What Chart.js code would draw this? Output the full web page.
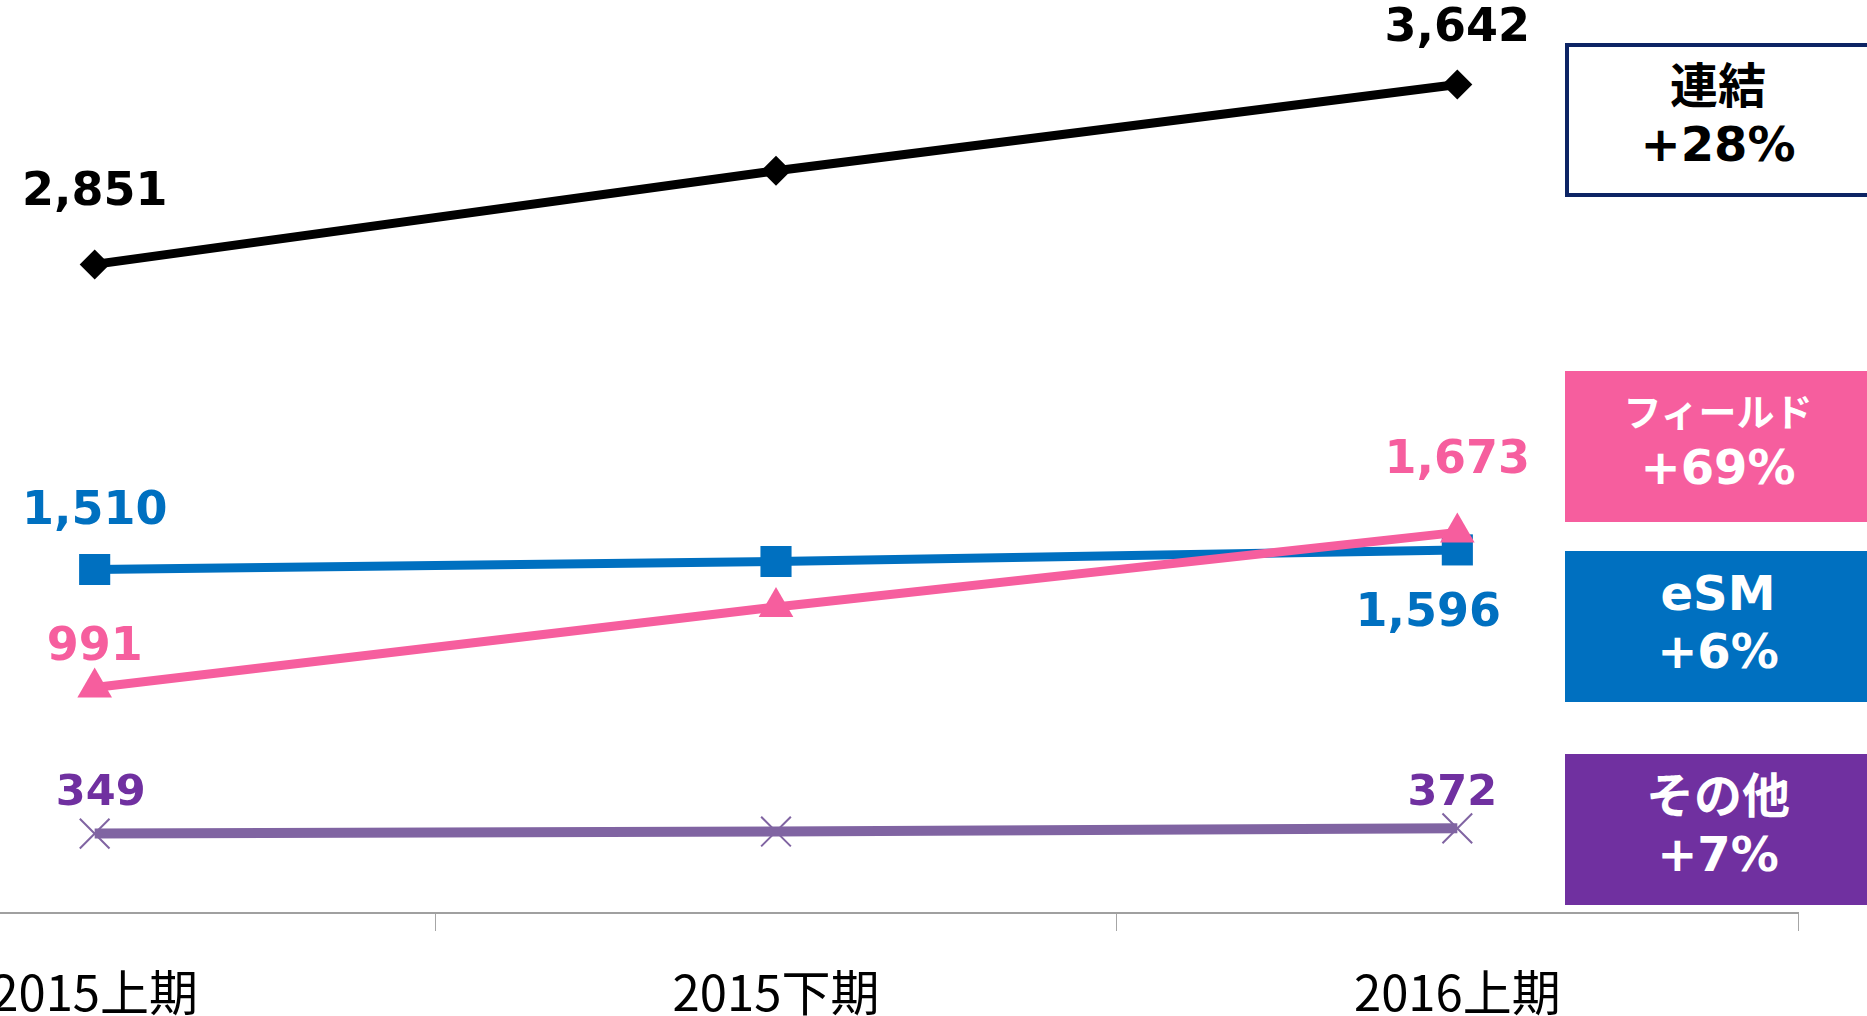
<!DOCTYPE html>
<html lang="ja">
<head>
<meta charset="utf-8">
<title>売上推移</title>
<script src="https://cdn.jsdelivr.net/npm/chart.js@4.4.1/dist/chart.umd.min.js"></script>
<style>
  html, body { margin: 0; padding: 0; background: #fff; overflow: hidden; }
  body { width: 1867px; height: 1016px; position: relative; }
  #wrap { position: absolute; left: -246px; top: 0; width: 2056px; height: 1016px; }
  .box {
    position: absolute; left: 1565px; width: 306px; height: 151px;
    display: flex; flex-direction: column; align-items: center; justify-content: center;
    font-family: 'DejaVu Sans', 'Noto Sans CJK JP', sans-serif; font-weight: bold;
    color: #fff; box-sizing: border-box; line-height: 58px; text-align: center;
    padding-bottom: 10px;
  }
  .box .t { font-size: 48px; }
  .box .g { font-size: 48px; }
  .box .small { font-size: 38px; line-height: 50px; }
</style>
</head>
<body>
<div id="wrap"><canvas id="grafico"></canvas></div>
<div id="boxes"></div>

<script>
// categorias e valores
const periodos = ['2015上期', '2015下期', '2016上期'];
const renketsu = [2851, 3263, 3642];
const field = [991, 1345, 1673];
const esm = [1510, 1545, 1596];
const sonota = [349, 358, 372];

// caixas da direita
const boxNomes = ['連結', 'フィールド', 'eSM', 'その他'];
const boxCrescimento = ['+28%', '+69%', '+6%', '+7%'];

const PRETO = '#000000';
const ROSA = '#F65E9E';
const AZUL = '#0070C0';
const ROXO = '#7030A0';
const ROXO_LINHA = '#8064A2';

// posição dos rótulos (índice do ponto -> deslocamento)
const rotulos = {
    renketsu: { cor: PRETO, fonte: 46, pos: { 0: [0, -71], 2: [0, -55] } },
    field:    { cor: ROSA,  fonte: 46, pos: { 0: [0, -40], 2: [0, -71] } },
    esm:      { cor: AZUL,  fonte: 46, pos: { 0: [0, -57], 2: [-29, 64] } },
    sonota:   { cor: ROXO,  fonte: 43, pos: { 0: [6, -40], 2: [-5, -35] } }
};

const pluginRotulos = {
    id: 'rotulos',
    afterDatasetsDraw(chart) {
        const ctx = chart.ctx;
        ctx.save();
        ctx.textAlign = 'center';
        ctx.textBaseline = 'middle';
        chart.data.datasets.forEach((ds, i) => {
            const cfg = rotulos[ds.chave];
            const meta = chart.getDatasetMeta(i);
            ctx.fillStyle = cfg.cor;
            ctx.font = 'bold ' + cfg.fonte + 'px "DejaVu Sans", sans-serif';
            Object.keys(cfg.pos).forEach(k => {
                const p = meta.data[k];
                const [dx, dy] = cfg.pos[k];
                ctx.fillText(ds.data[k].toLocaleString('en-US'), p.x + dx, p.y + dy);
            });
        });
        ctx.restore();
    }
};

const ctx = document.getElementById('grafico').getContext('2d');
const grafico = new Chart(ctx, {
    type: 'line',
    data: {
        labels: periodos,
        datasets: [
            {
                chave: 'renketsu', label: '連結', data: renketsu,
                borderColor: PRETO, backgroundColor: PRETO, borderWidth: 9,
                pointStyle: 'rectRot', pointRadius: 15, pointBorderWidth: 0,
                pointBackgroundColor: PRETO
            },
            {
                chave: 'field', label: 'フィールド', data: field,
                borderColor: ROSA, backgroundColor: ROSA, borderWidth: 9,
                pointStyle: 'triangle', pointRadius: 20, pointBorderWidth: 0,
                pointBackgroundColor: ROSA
            },
            {
                chave: 'esm', label: 'eSM', data: esm,
                borderColor: AZUL, backgroundColor: AZUL, borderWidth: 9,
                pointStyle: 'rect', pointRadius: 22, pointBorderWidth: 0,
                pointBackgroundColor: AZUL
            },
            {
                chave: 'sonota', label: 'その他', data: sonota,
                borderColor: ROXO_LINHA, backgroundColor: ROXO_LINHA, borderWidth: 10,
                pointStyle: 'crossRot', pointRadius: 21, pointBorderWidth: 2,
                pointBorderColor: ROXO_LINHA
            }
        ]
    },
    options: {
        responsive: true,
        maintainAspectRatio: false,
        animation: false,
        layout: { autoPadding: false, padding: { top: 3, left: 0, right: 12, bottom: 0 } },
        plugins: { legend: { display: false }, tooltip: { enabled: false } },
        scales: {
            x: {
                offset: true,
                grid: {
                    offset: true, drawOnChartArea: false, drawTicks: true,
                    tickLength: 18, color: '#A6A6A6', lineWidth: 1
                },
                border: { display: true, color: '#A0A0A0', width: 2 },
                ticks: {
                    color: '#000', padding: 32,
                    font: { family: '"Noto Sans CJK JP", sans-serif', size: 49 }
                },
                afterFit(scale) { scale.height = 103; }
            },
            y: {
                display: false,
                min: 0,
                max: 4000
            }
        }
    },
    plugins: [pluginRotulos]
});

// caixas de variação
const estilos = [
    { top: 43, fundo: '#fff', cor: '#000', borda: '4px solid #0D2464', pequeno: false },
    { top: 371, fundo: ROSA, cor: '#fff', borda: 'none', pequeno: true },
    { top: 551, fundo: AZUL, cor: '#fff', borda: 'none', pequeno: false },
    { top: 754, fundo: ROXO, cor: '#fff', borda: 'none', pequeno: false }
];
const boxes = document.getElementById('boxes');
boxNomes.forEach((nome, i) => {
    const e = estilos[i];
    const div = document.createElement('div');
    div.className = 'box';
    div.style.top = e.top + 'px';
    div.style.background = e.fundo;
    div.style.color = e.cor;
    div.style.border = e.borda;
    if (i === 0) div.style.height = '154px';
    div.innerHTML = '<span class="' + (e.pequeno ? 'small' : 't') + '">' + nome + '</span>' +
                    '<span class="g">' + boxCrescimento[i] + '</span>';
    boxes.appendChild(div);
});
</script>
</body>
</html>
